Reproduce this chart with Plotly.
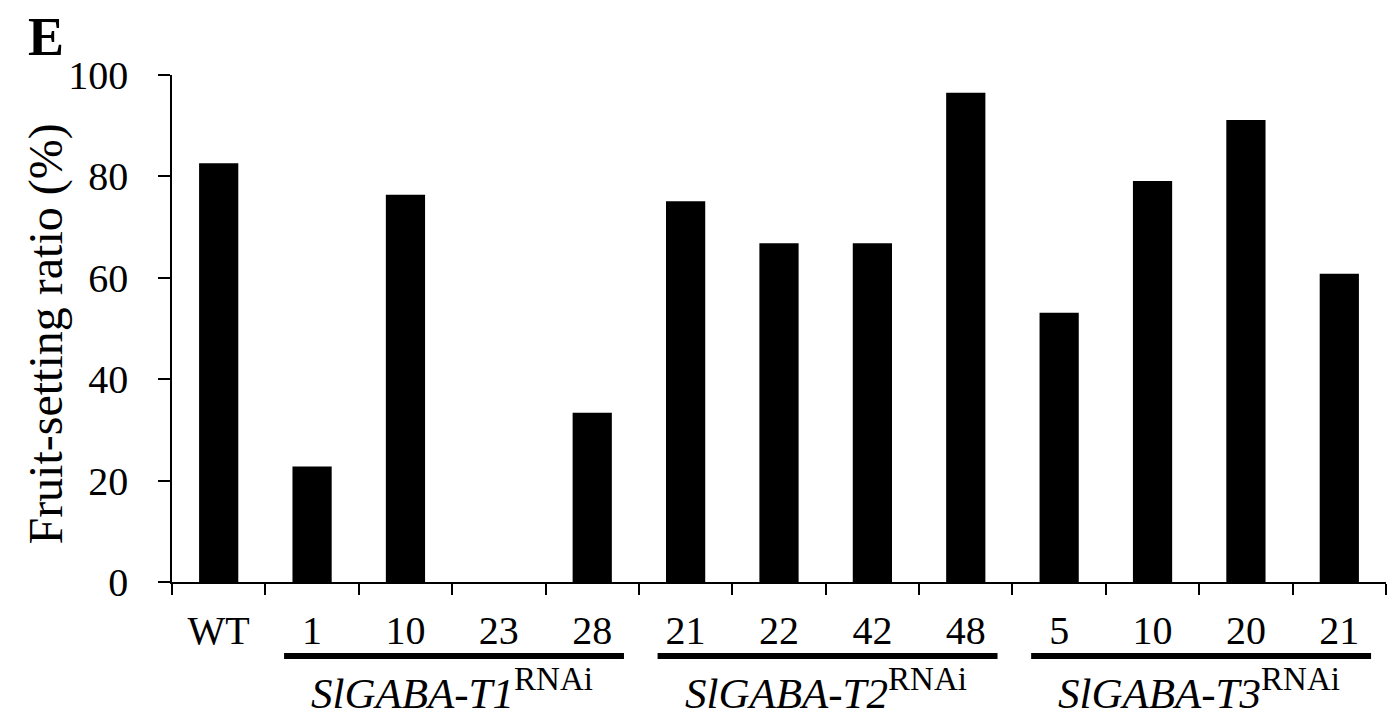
import plotly.graph_objects as go

# ---- data ----
tick_labels = ["WT", "1", "10", "23", "28", "21", "22", "42", "48", "5", "10", "20", "21"]
fruit_setting = [82.6, 22.8, 76.4, 0.0, 33.4, 75.1, 66.8, 66.8, 96.5, 53.1, 79.1, 91.1, 60.8]
groups = ["SlGABA-T1", "SlGABA-T2", "SlGABA-T3"]
group_members = [[1, 2, 3, 4], [5, 6, 7, 8], [9, 10, 11, 12]]
y_ticks = [0, 20, 40, 60, 80, 100]

FONT = "'Liberation Serif', 'Times New Roman', serif"
positions = list(range(len(tick_labels)))

fig = go.Figure()
fig.add_trace(go.Bar(
    x=positions, y=fruit_setting, width=0.42,
    marker=dict(color="black", line=dict(width=0)),
    showlegend=False,
))

# group underlines and labels
for name, members in zip(groups, group_members):
    fig.add_shape(type="line", xref="x", yref="paper",
                  x0=members[0] - 0.3, x1=members[-1] + 0.34,
                  y0=-0.146, y1=-0.146,
                  line=dict(color="black", width=6))
    fig.add_annotation(
        xref="x", yref="paper", x=sum(members) / len(members), y=-0.212,
        text=f"<i>{name}</i><sup><span style='font-size:33px'>RNAi</span></sup>",
        showarrow=False, yanchor="middle", xanchor="center",
        font=dict(family=FONT, size=43, color="black"),
    )

# y-axis title
fig.add_annotation(
    xref="paper", yref="paper", x=-0.1038, y=0.49,
    text="Fruit-setting ratio (%)", textangle=-90, showarrow=False,
    xanchor="center", yanchor="middle",
    font=dict(family=FONT, size=48, color="black"),
)
# panel letter
fig.add_annotation(
    xref="paper", yref="paper", x=-0.1038, y=1.074,
    text="<b>E</b>", showarrow=False, xanchor="center", yanchor="middle",
    font=dict(family=FONT, size=54, color="black"),
)

fig.update_layout(
    width=1400, height=719,
    margin=dict(l=172, r=14, t=75, b=137, pad=0),
    paper_bgcolor="white", plot_bgcolor="white",
    font=dict(family=FONT, color="black"),
    xaxis=dict(
        range=[-0.5, len(tick_labels) - 0.5],
        tickmode="array", tickvals=positions, ticktext=tick_labels,
        ticks="", showgrid=False, zeroline=False,
        showline=True, linecolor="black", linewidth=1.5,
        tickfont=dict(family=FONT, size=40, color="black"),
        ticklabelstandoff=12,
        minor=dict(tickmode="array",
                   tickvals=[p - 0.5 for p in positions] + [positions[-1] + 0.5],
                   ticks="outside", ticklen=11, tickwidth=1.5, tickcolor="black",
                   showgrid=False),
    ),
    yaxis=dict(
        range=[0, 100], tickmode="array", tickvals=y_ticks,
        ticks="outside", ticklen=12, tickwidth=1.5, tickcolor="black",
        showgrid=False, zeroline=False,
        showline=True, linecolor="black", linewidth=1.5,
        tickfont=dict(family=FONT, size=40, color="black"),
        ticklabelstandoff=22,
    ),
    bargap=0.58,
)

fig.write_html("out.html")
